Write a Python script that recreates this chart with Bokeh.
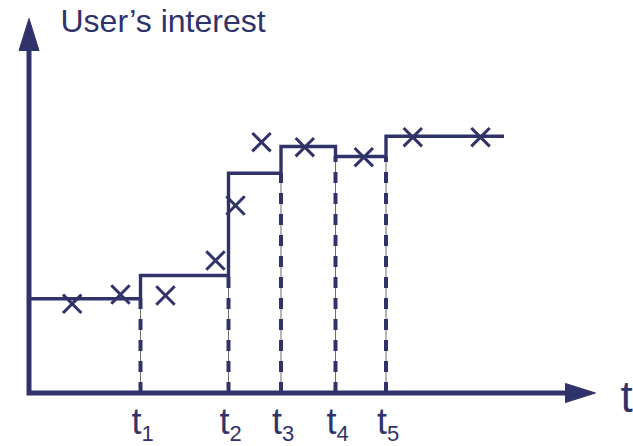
from bokeh.plotting import figure
from bokeh.models import Range1d
from bokeh.core.properties import value
from bokeh.embed import file_html
from bokeh.resources import INLINE

# ---- data (time units on x, interest units on y) ----
t_subscripts = ["1", "2", "3", "4", "5"]
t_changes = [11.15, 19.95, 25.2, 30.65, 35.7]
step_start = 0.0
step_end = 47.5
levels = [9.42, 11.75, 21.98, 24.65, 23.65, 25.68]
obs_t = [4.32, 9.15, 13.65, 18.65, 20.65, 23.25, 27.58, 33.48, 38.38, 45.15]
obs_y = [8.92, 9.85, 9.75, 13.25, 18.75, 25.08, 24.58, 23.58, 25.58, 25.58]
x_axis_end = 56.65
y_axis_end = 37.45
y_title = "User\u2019s interest"
x_title = "t"

# ---- style ----
NAVY = "#303369"
GREY = "#6e6e6e"
FONT = "Liberation Sans"
head_len_y, head_half_y = 3.2, 1.0
head_len_x, head_half_x = 3.0, 0.95
BASE_SHIFT = 0.38  # raise text by this fraction of its font size

p = figure(width=633, height=446,
           x_range=Range1d(-2.85, 60.45), y_range=Range1d(-5.35, 39.25),
           output_backend="svg", toolbar_location=None,
           x_axis_type=None, y_axis_type=None, min_border=0)
p.outline_line_color = None
p.background_fill_color = "white"
p.border_fill_color = "white"

# dashed change-point lines (thin grey core + thick dashes)
tops = [min(levels[i], levels[i + 1]) for i in range(len(t_changes))]
p.segment(x0=t_changes, y0=[0] * len(t_changes), x1=t_changes, y1=tops,
          line_color=GREY, line_width=1)
p.segment(x0=t_changes, y0=[0] * len(t_changes), x1=t_changes, y1=tops,
          line_color=NAVY, line_width=4, line_dash="11 10", line_cap="butt")

# step function
xs = [step_start] + t_changes + [step_end]
ys = levels + [levels[-1]]
p.step(xs, ys, mode="after", line_color=NAVY, line_width=3.4, line_join="miter")

# observations
p.scatter(obs_t, obs_y, marker="x", size=26, line_color=NAVY, line_width=3)

# axes with arrows
p.line([x_axis_end - head_len_x + 0.2, 0, 0], [0, 0, y_axis_end - head_len_y + 0.2],
       line_color=NAVY, line_width=5, line_join="miter")
p.patch([0 - head_half_y, 0, 0 + head_half_y],
        [y_axis_end - head_len_y, y_axis_end, y_axis_end - head_len_y],
        fill_color=NAVY, line_color=NAVY, line_width=1)
p.patch([x_axis_end - head_len_x, x_axis_end, x_axis_end - head_len_x],
        [0 - head_half_x, 0, 0 + head_half_x],
        fill_color=NAVY, line_color=NAVY, line_width=1)


def label(x, y, text, size, align):
    p.text(x=x, y=y, text=text, text_font=value(FONT), text_color=NAVY,
           text_baseline="alphabetic", text_font_size=f"{size}px",
           text_align=align, y_offset=-BASE_SHIFT * size)


# titles
label([3.15], [35.95], [y_title], 32, "left")
label([x_axis_end + 2.5], [-2.05], [x_title], 44, "left")

# change-point labels t with subscripts
label([t + 0.1 for t in t_changes], [-4.25] * len(t_changes),
      ["t"] * len(t_changes), 36, "right")
label([t + 0.1 for t in t_changes], [-4.9] * len(t_changes),
      t_subscripts, 22, "left")

open("out.html", "w").write(file_html(p, INLINE))
